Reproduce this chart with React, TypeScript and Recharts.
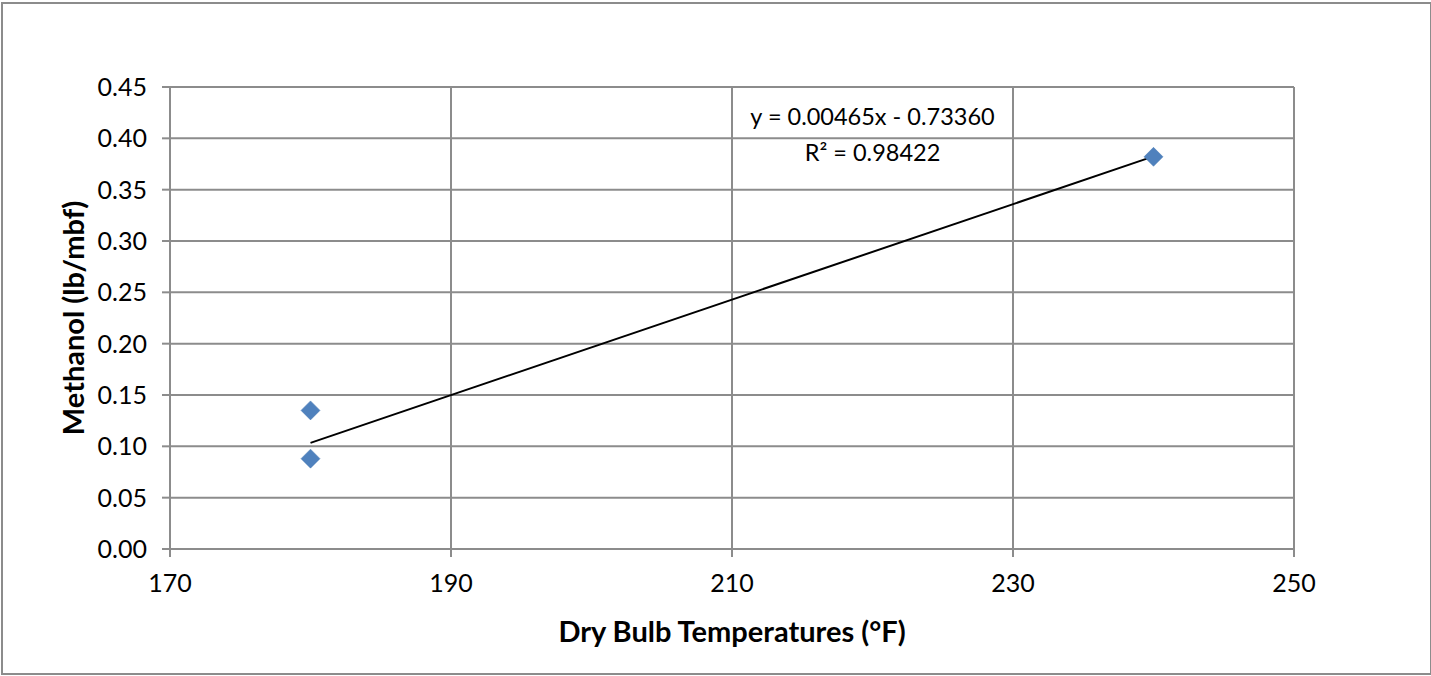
import {
    ScatterChart, Scatter, XAxis, YAxis, CartesianGrid, ReferenceDot
} from 'recharts';

const tempsF = [180, 180, 240];
const methanol = [0.135, 0.088, 0.382];
const xTicks = [170, 190, 210, 230, 250];
const yTicks = [0, 0.05, 0.1, 0.15, 0.2, 0.25, 0.3, 0.35, 0.4, 0.45];
const trendCoef = [0.00465, -0.7336];
const trendX = [180, 240];
const eqLines = ['y = 0.00465x - 0.73360', 'R² = 0.98422'];

const points = tempsF.map((t, i) => ({ x: t, y: methanol[i] }));
const trend = trendX.map(x => ({ x, y: trendCoef[0] * x + trendCoef[1] }));

const FONT = 'Lato, "Open Sans", sans-serif';
const GRID = '#8c8c8c';

const Diamond = (props: any) => {
    const { cx, cy } = props;
    const r = 9.5;
    return (
        <polygon
            points={`${cx},${cy - r} ${cx + r},${cy} ${cx},${cy + r} ${cx - r},${cy}`}
            fill="#4F81BD"
            stroke="#4a7ab5"
            strokeWidth={0.5}
        />
    );
};

const EquationLabel = (props: any) => {
    const { viewBox } = props;
    const cx = viewBox.x;
    const cy = viewBox.y;
    return (
        <g fontFamily={FONT} fontSize={23.5} fill="#000">
            <text x={cx} y={cy} textAnchor="middle" dominantBaseline="central">{eqLines[0]}</text>
            <text x={cx} y={cy + 36} textAnchor="middle" dominantBaseline="central">{eqLines[1]}</text>
        </g>
    );
};

const YTitle = (props: any) => {
    const { viewBox } = props;
    const x = viewBox.x + 72;
    const y = viewBox.y + viewBox.height / 2;
    return (
        <text x={x} y={y} transform={`rotate(-90, ${x}, ${y})`} textAnchor="middle" dominantBaseline="central"
            fontFamily={FONT} fontWeight="bold" fontSize={29} fill="#000">
            Methanol (lb/mbf)
        </text>
    );
};

const XTitle = (props: any) => {
    const { viewBox } = props;
    const x = viewBox.x + viewBox.width / 2;
    const y = viewBox.y + 81;
    return (
        <text x={x} y={y} textAnchor="middle" dominantBaseline="central"
            fontFamily={FONT} fontWeight="bold" fontSize={29} fill="#000">
            Dry Bulb Temperatures (°F)
        </text>
    );
};

export default function App() {
    return (
        <div style={{ position: 'relative', width: 1431, height: 676, background: '#fff' }}>
            <style>{'body{margin:0}'}</style>
            <div style={{
                position: 'absolute', left: 1, top: 2, width: 1427, height: 669,
                border: `2px solid ${GRID}`, boxSizing: 'content-box'
            }} />
            <div style={{ position: 'absolute', left: 0, top: 0 }}>
                <ScatterChart width={1431} height={676} margin={{ top: 87, right: 137, left: 0, bottom: 0 }}>
                    <CartesianGrid stroke={GRID} strokeWidth={2} horizontalValues={yTicks} verticalValues={xTicks} />
                    <XAxis
                        type="number"
                        dataKey="x"
                        domain={[170, 250]}
                        ticks={xTicks}
                        height={127}
                        stroke={GRID}
                        strokeWidth={2}
                        tickSize={8}
                        tickMargin={17}
                        tick={{ fill: '#000', fontSize: 25, fontFamily: FONT }}
                        label={<XTitle />}
                    />
                    <YAxis
                        type="number"
                        dataKey="y"
                        domain={[0, 0.45]}
                        ticks={yTicks}
                        width={170}
                        stroke={GRID}
                        strokeWidth={2}
                        tickSize={8}
                        tickMargin={15}
                        tickFormatter={(v: number) => v.toFixed(2)}
                        tick={{ fill: '#000', fontSize: 25, fontFamily: FONT }}
                        label={<YTitle />}
                    />
                    <Scatter data={trend} line={{ stroke: '#000', strokeWidth: 2 }} shape={() => null} isAnimationActive={false} />
                    <Scatter data={points} shape={<Diamond />} isAnimationActive={false} />
                    <ReferenceDot x={220} y={0.4215} r={0} fill="none" stroke="none" label={<EquationLabel />} />
                </ScatterChart>
            </div>
        </div>
    );
}
